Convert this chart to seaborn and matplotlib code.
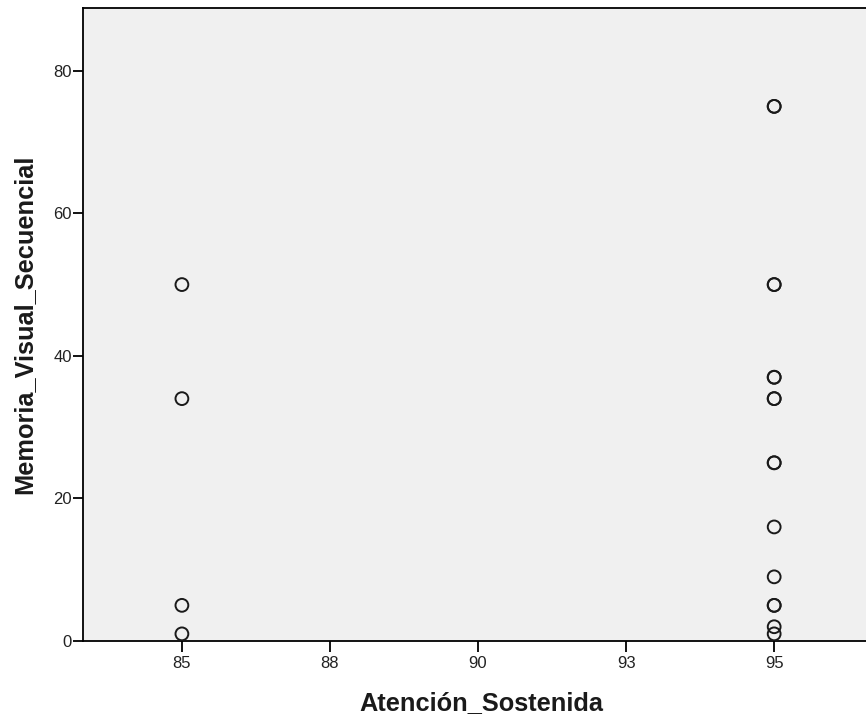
import numpy as np
import pandas as pd
import matplotlib.pyplot as plt
import seaborn as sns

# values (duplicates drawn on top of each other)
atencion_85 = [85, 85, 85, 85]
memoria_85 = [50, 34, 5, 1]
atencion_95 = [95] * 16
memoria_95 = [75, 75, 50, 50, 37, 37, 34, 34, 25, 25, 16, 9, 5, 5, 2, 1]

x_ticks = [85, 87.5, 90, 92.5, 95]
x_tick_labels = ['85', '88', '90', '93', '95']
y_ticks = [0, 20, 40, 60, 80]

df = pd.DataFrame({
    'Atención_Sostenida': atencion_85 + atencion_95,
    'Memoria_Visual_Secuencial': memoria_85 + memoria_95,
})

sns.set_style('white')
plt.rcParams['font.family'] = ['Liberation Sans', 'DejaVu Sans']

fig = plt.figure(figsize=(8.66, 7.21), dpi=100)
# plot area runs a little past the right edge of the picture
ax = fig.add_axes([83 / 866, 1 - 641 / 721, (879 - 83) / 866, (641 - 8) / 721])
ax.set_facecolor('#f0f0f0')

sns.scatterplot(data=df, x='Atención_Sostenida', y='Memoria_Visual_Secuencial',
                ax=ax, marker='o', s=85, facecolors='none',
                edgecolor='#1a1a1a', linewidth=1.4, zorder=3)

ax.set_xlim(83.33, 96.77)
ax.set_ylim(0, 88.8)
ax.set_xticks(x_ticks)
ax.set_xticklabels(x_tick_labels)
ax.set_yticks(y_ticks)

for side in ['left', 'bottom', 'top']:
    ax.spines[side].set_color('black')
    ax.spines[side].set_linewidth(1.3)
ax.spines['right'].set_visible(False)

ax.tick_params(axis='both', direction='out', width=1.3, color='black',
               labelsize=12, labelcolor='#222222')
ax.tick_params(axis='x', bottom=True, length=8, pad=3)
ax.tick_params(axis='y', left=True, length=7, pad=1)

ax.set_xlabel('Atención_Sostenida', fontsize=18.3, fontweight='bold',
              color='#1a1a1a', labelpad=14)
ax.set_ylabel('Memoria_Visual_Secuencial', fontsize=18.3, fontweight='bold',
              color='#1a1a1a', labelpad=12)

fig.savefig('out.png', dpi=100)
